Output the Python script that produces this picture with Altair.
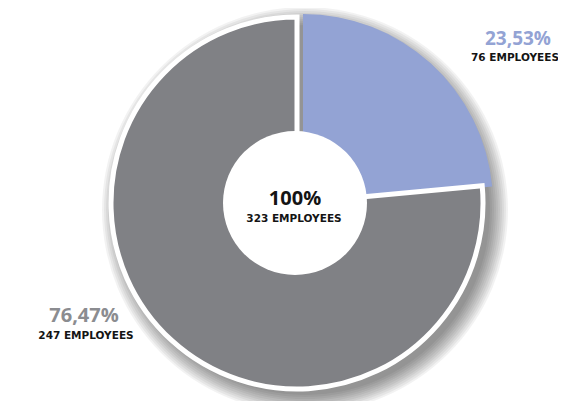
import math
import altair as alt
import pandas as pd

# ---- data ----
segments = ["Group A", "Group B"]
employees = [76, 247]
pct_labels = ["23,53%", "76,47%"]
emp_labels = ["76 EMPLOYEES", "247 EMPLOYEES"]
total_pct_label = "100%"
total_emp_label = "323 EMPLOYEES"

# ---- styling ----
BLUE = "#93a3d4"
GREY = "#808185"
GREY_TXT = "#8b8c90"
DARK = "#141414"
PCT_FONT = "Open Sans"
SMALL_FONT = "DejaVu Sans"
M = 8  # page margin
W, H = 550, 393

df = pd.DataFrame({"segment": segments, "employees": employees, "order": [0, 1]})
base = alt.Chart(df)


def slice_layer(seg, cx, cy, r, fill, stroke, sw):
    visible = alt.datum.segment == seg
    return base.mark_arc(radius=r, strokeWidth=sw, strokeJoin="miter").encode(
        theta=alt.Theta("employees:Q", stack=True),
        order=alt.Order("order:Q"),
        x=alt.value(cx - M),
        y=alt.value(cy - M),
        fill=alt.when(visible).then(alt.value(fill)).otherwise(alt.value("transparent")),
        stroke=alt.when(visible).then(alt.value(stroke)).otherwise(alt.value("transparent")),
    )


one = pd.DataFrame({"k": [0]})

# soft drop shadow (decoration): stacked translucent discs
shadow_radii = [185, 187, 189, 191, 193, 195, 197, 199, 201, 203]
shadow = [
    alt.Chart(one).mark_arc(
        theta=0, theta2=2 * math.pi, radius=r, fill="black", fillOpacity=0.05
    ).encode(x=alt.value(305 - M), y=alt.value(210 - M))
    for r in shadow_radii
]

blue_slice = slice_layer("Group A", 303, 204, 190, BLUE, "white", 0)
grey_slice = slice_layer("Group B", 297, 203, 186, GREY, "white", 5)

hole = alt.Chart(one).mark_arc(
    theta=0, theta2=2 * math.pi, radius=72, fill="white"
).encode(x=alt.value(295 - M), y=alt.value(203 - M))


def text_layer(txt, cx, baseline_y, size, color, font):
    return alt.Chart(pd.DataFrame({"t": [txt]})).mark_text(
        font=font, fontWeight="bold", fontSize=size, color=color,
        align="center", baseline="alphabetic",
    ).encode(text="t:N", x=alt.value(cx - M), y=alt.value(baseline_y - M))


texts = [
    text_layer(total_pct_label, 295, 205, 20, DARK, PCT_FONT),
    text_layer(total_emp_label, 294, 222, 10.5, DARK, SMALL_FONT),
    text_layer(pct_labels[0], 518, 45, 19, BLUE, PCT_FONT),
    text_layer(emp_labels[0], 515, 61, 10.5, DARK, SMALL_FONT),
    text_layer(pct_labels[1], 84, 322, 20, GREY_TXT, PCT_FONT),
    text_layer(emp_labels[1], 86, 339, 10.5, DARK, SMALL_FONT),
]

chart = alt.layer(*shadow, blue_slice, grey_slice, hole, *texts).properties(
    width=W, height=H, padding=0, autosize=alt.AutoSizeParams(type="none")
).configure_view(stroke=None)

chart.save("out.html", embed_options={"renderer": "svg", "actions": False})
